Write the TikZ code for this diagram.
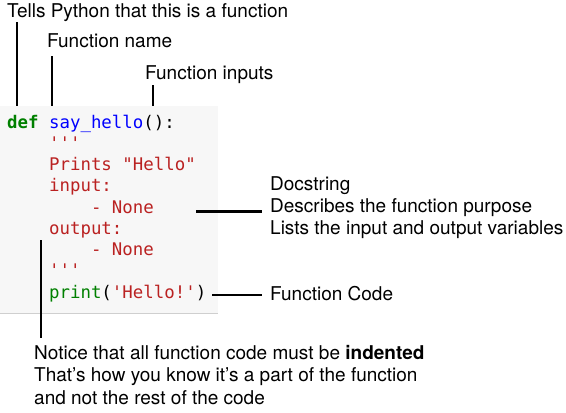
\documentclass[tikz,border=0pt]{standalone}
\usepackage{fontspec}
\setmainfont{TeX Gyre Heros}
\newfontfamily\codefont{DejaVu Sans Mono}
\definecolor{kwgreen}{HTML}{008000}
\definecolor{fnblue}{HTML}{0000FF}
\definecolor{strred}{HTML}{BA2121}
\definecolor{boxbg}{HTML}{F7F7F7}
\definecolor{boxline}{HTML}{CFCFCF}
\newcommand\sq{\char"27\relax}
\newcommand\dq{\char"22\relax}
\newcommand\ind{\hphantom{0000}}
\begin{document}
\begin{tikzpicture}[x=1pt,y=-1pt,
  label/.style={anchor=base west,inner sep=0pt,font=\fontsize{19}{22}\selectfont},
  codeline/.style={anchor=base west,inner sep=0pt,font=\codefont\fontsize{17.4}{21}\selectfont},
  conn/.style={line width=2.6pt}]
\useasboundingbox (0,0) rectangle (566,413);
% code box
\fill[boxbg] (0,106) rectangle (218,313);
\draw[boxline,line width=1pt] (0,313) -- (218,313);
% code lines
\node[codeline] (c1) at (7,128) {\textcolor{kwgreen}{\bfseries def} \textcolor{fnblue}{say\_hello}():};
\node[codeline,text=strred] (c2) at (7,149.25) {\ind\sq\sq\sq};
\node[codeline,text=strred] (c3) at (7,170.5) {\ind Prints \dq Hello\dq};
\node[codeline,text=strred] (c4) at (7,191.75) {\ind input:};
\node[codeline,text=strred] (c5) at (7,213) {\ind\ind- None};
\node[codeline,text=strred] (c6) at (7,234.25) {\ind output:};
\node[codeline,text=strred] (c7) at (7,255.5) {\ind\ind- None};
\node[codeline,text=strred] (c8) at (7,276.75) {\ind\sq\sq\sq};
\node[codeline] (c9) at (7,298) {\ind\textcolor{kwgreen}{print}(\textcolor{strred}{\sq Hello!\sq})};
% labels
\node[label] (l1) at (7,17.5) {Tells Python that this is a function};
\node[label] (l2) at (47,47.5) {Function name};
\node[label] (l3) at (145,79.5) {Function inputs};
\node[label] (d1) at (270,190.5) {Docstring};
\node[label] (d2) at (270,212.5) {Describes the function purpose};
\node[label] (d3) at (270,234.5) {Lists the input and output variables};
\node[label] (fc) at (270,300) {Function Code};
\node[label] (n1) at (34,359) {Notice that all function code must be \textbf{indented}};
\node[label] (n2) at (34,381.5) {That's how you know it's a part of the function};
\node[label] (n3) at (34,404) {and not the rest of the code};
% connector endpoints
\coordinate (a1) at (17,22);  \coordinate (b1) at (17,106);
\coordinate (a2) at (52,56);  \coordinate (b2) at (52,106);
\coordinate (a3) at (153,85); \coordinate (b3) at (153,106);
\coordinate (a4) at (196,211.5); \coordinate (b4) at (262,211.5);
\coordinate (a5) at (212,295); \coordinate (b5) at (262,295);
\coordinate (a6) at (41,240); \coordinate (b6) at (41,338);
\draw[conn] (a1) -- (b1);
\draw[conn] (a2) -- (b2);
\draw[conn] (a3) -- (b3);
\draw[conn] (a4) -- (b4);
\draw[conn] (a5) -- (b5);
\draw[conn] (a6) -- (b6);
\end{tikzpicture}
\end{document}
